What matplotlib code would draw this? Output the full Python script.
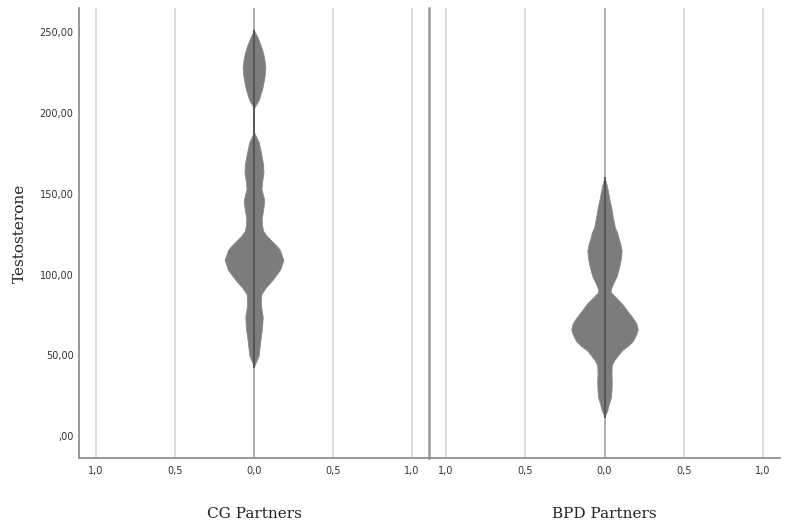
import matplotlib
matplotlib.use("Agg")
import matplotlib.pyplot as plt
import numpy as np

# ---- data ----
groups = ["CG Partners", "BPD Partners"]

# Testosterone levels (y) and violin half-widths (x-axis units) along the outline
cg_levels = [43, 50, 59, 66, 70, 74, 80, 84, 88, 92, 97, 101, 103, 109, 115, 117,
             121, 124, 127, 131, 135, 140, 146, 150, 153, 158, 163, 168, 175, 182, 188,
             203, 208, 215, 222, 228, 233, 237, 242, 247, 251]
cg_width = [0.0, 0.030, 0.040, 0.050, 0.053, 0.055, 0.045, 0.044, 0.047, 0.075, 0.120, 0.150, 0.165, 0.186, 0.165, 0.150,
            0.110, 0.080, 0.058, 0.050, 0.049, 0.058, 0.065, 0.055, 0.047, 0.052, 0.060, 0.058, 0.045, 0.030, 0.0,
            0.0, 0.030, 0.052, 0.066, 0.072, 0.066, 0.058, 0.042, 0.022, 0.0]

bpd_levels = [12, 16, 20, 24, 28, 33, 39, 44, 47, 50, 53, 56, 59, 63, 66, 70, 74, 78, 82, 86, 89,
              91, 95, 99, 103, 107, 111, 115, 119, 122, 126, 129, 132, 137, 142, 146, 150, 155, 160]
bpd_width = [0.0, 0.018, 0.028, 0.040, 0.044, 0.046, 0.044, 0.046, 0.062, 0.085, 0.110, 0.150, 0.180, 0.200, 0.210, 0.200, 0.172, 0.140, 0.110, 0.070, 0.040,
             0.040, 0.057, 0.077, 0.088, 0.098, 0.105, 0.108, 0.100, 0.090, 0.080, 0.066, 0.060, 0.050, 0.042, 0.032, 0.025, 0.015, 0.0]

profiles = [(cg_levels, cg_width), (bpd_levels, bpd_width)]

x_ticks = [-1.0, -0.5, 0.0, 0.5, 1.0]
x_tick_labels = ["1,0", "0,5", "0,0", "0,5", "1,0"]
y_ticks = [0, 50, 100, 150, 200, 250]
y_tick_labels = [",00", "50,00", "100,00", "150,00", "200,00", "250,00"]
y_label = "Testosterone"

# ---- figure ----
W, H = 785, 525
fig = plt.figure(figsize=(W / 100, H / 100), dpi=100)
left_px, right_px, div_px, top_px, bot_px = 79, 780, 429, 8, 458
axes = []
for i, (x0, x1) in enumerate([(left_px, div_px), (div_px, right_px)]):
    ax = fig.add_axes([x0 / W, 1 - bot_px / H, (x1 - x0) / W, (bot_px - top_px) / H])
    axes.append(ax)

fill_col = "#7c7c7c"
for i, ax in enumerate(axes):
    lv, wd = profiles[i]
    lv = np.array(lv, float)
    wd = np.array(wd, float)
    ax.set_xlim(-1.108, 1.108)
    ax.set_ylim(-13.6, 265)
    for t in x_ticks:
        ax.axvline(t, color="#a8a8a8" if t == 0 else "#d9d9d9", lw=1.3, zorder=0)
    ax.fill_betweenx(lv, -wd, wd, color=fill_col, lw=0.6, edgecolor="#8a8a8a", zorder=2)
    ax.plot([0, 0], [lv.min(), lv.max()], color="#555555", lw=1.4, zorder=3)
    ax.set_xticks(x_ticks)
    ax.set_xticklabels(x_tick_labels, fontsize=7, color="#333333", family="DejaVu Sans")
    ax.tick_params(axis="x", length=0, pad=6)
    for s in ["top", "right"]:
        ax.spines[s].set_visible(False)
    ax.spines["bottom"].set_color("#888888")
    ax.spines["bottom"].set_linewidth(1.2)
    ax.set_xlabel(groups[i], fontsize=11, family="DejaVu Serif", labelpad=22, color="#222222")
    ax.spines["left"].set_linewidth(1.2 if i == 0 else 1.8)
    ax.spines["left"].set_color("#888888" if i == 0 else "#999999")
    if i == 0:
        ax.set_yticks(y_ticks)
        ax.set_yticklabels(y_tick_labels, fontsize=7, color="#333333", family="DejaVu Sans")
        ax.tick_params(axis="y", length=0, pad=4)
        ax.set_ylabel(y_label, fontsize=11, family="DejaVu Serif", labelpad=9, color="#222222")
    else:
        ax.set_yticks([])
    ax.patch.set_alpha(0)

fig.savefig("out.png", dpi=100, facecolor="white")
